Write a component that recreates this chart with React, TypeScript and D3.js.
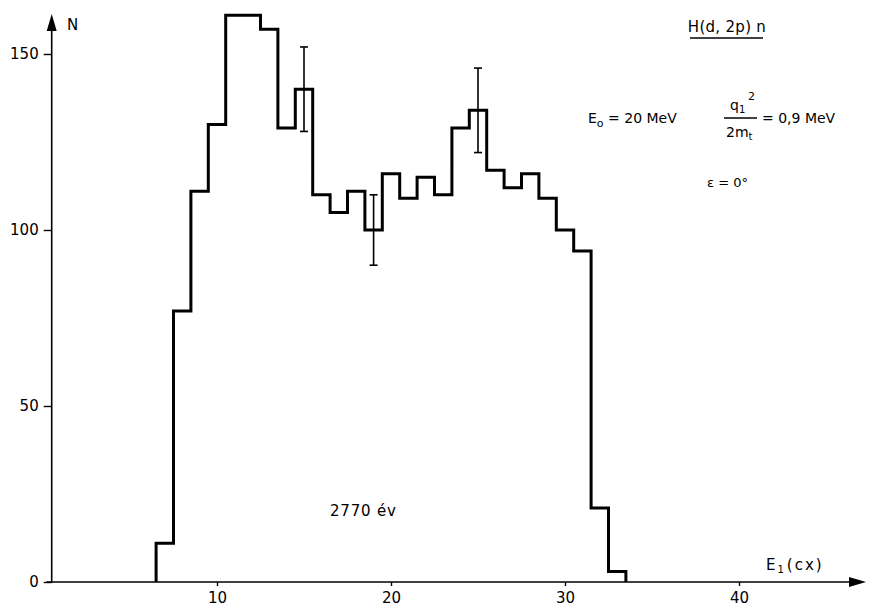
import * as d3 from "d3";
import { useEffect, useRef } from "react";

const W = 878;
const H = 611;

// channel centres of the histogram and the counts in each
const channels = [7, 8, 9, 10, 11, 12, 13, 14, 15, 16, 17, 18, 19, 20, 21, 22, 23, 24, 25, 26, 27, 28, 29, 30, 31, 32, 33];
const counts = [11, 77, 111, 130, 161, 161, 157, 129, 140, 110, 105, 111, 100, 116, 109, 115, 110, 129, 134, 117, 112, 116, 109, 100, 94, 21, 3];

// error bars on a few channels
const errChannels = [15, 19, 25];
const errLow = [128, 90, 122];
const errHigh = [152, 110, 146];

const xTicks = [10, 20, 30, 40];
const yTicks = [0, 50, 100, 150];

const FONT = "'DejaVu Sans', sans-serif";

const App = () => {
  const ref = useRef<SVGSVGElement>(null);

  useEffect(() => {
    const svg = d3.select(ref.current);
    svg.selectAll("*").remove();

    const x = d3.scaleLinear().domain([0, 40]).range([43, 739]);
    const y = d3.scaleLinear().domain([0, 150]).range([582, 54]);
    const x0 = x(0.5);
    const y0 = y(0);

    // axes lines with arrow heads
    svg.append("line")
      .attr("x1", x0).attr("x2", x0)
      .attr("y1", y0 + 1).attr("y2", 28)
      .attr("stroke", "#000").attr("stroke-width", 1.6);
    svg.append("path")
      .attr("d", `M${x0},14 L${x0 - 5},31 L${x0 + 5},31 Z`)
      .attr("fill", "#000");

    svg.append("line")
      .attr("x1", x(0.2)).attr("x2", 852)
      .attr("y1", y0).attr("y2", y0)
      .attr("stroke", "#000").attr("stroke-width", 1.6);
    svg.append("path")
      .attr("d", `M866,${y0} L849,${y0 - 5} L849,${y0 + 5} Z`)
      .attr("fill", "#000");

    // Y ticks
    const gy = svg.append("g")
      .attr("transform", `translate(${x0},0)`)
      .call(d3.axisLeft(y).tickValues(yTicks).tickSize(8).tickPadding(5));
    gy.select(".domain").remove();
    gy.selectAll("line").attr("stroke-width", 1.4);
    gy.selectAll("text")
      .style("font-family", FONT).style("font-size", "15px").attr("fill", "#000");

    // X ticks
    const gx = svg.append("g")
      .attr("transform", `translate(0,${y0})`)
      .call(d3.axisBottom(x).tickValues(xTicks).tickSize(4).tickPadding(6));
    gx.select(".domain").remove();
    gx.selectAll("line").attr("stroke-width", 1.4);
    gx.selectAll("text")
      .style("font-family", FONT).style("font-size", "15px").attr("fill", "#000");

    // histogram outline
    const pts: [number, number][] = [[channels[0] - 0.5, 0]];
    channels.forEach((c, i) => {
      pts.push([c - 0.5, counts[i]]);
      pts.push([c + 0.5, counts[i]]);
    });
    pts.push([channels[channels.length - 1] + 0.5, 0]);
    const line = d3.line<[number, number]>().x((d) => x(d[0])).y((d) => y(d[1]));
    svg.append("path")
      .attr("d", line(pts))
      .attr("fill", "none")
      .attr("stroke", "#000")
      .attr("stroke-width", 3)
      .attr("stroke-linejoin", "miter");

    // error bars
    const eb = svg.append("g").attr("stroke", "#000").attr("stroke-width", 1.6);
    errChannels.forEach((c, i) => {
      const cx = x(c);
      eb.append("line").attr("x1", cx).attr("x2", cx).attr("y1", y(errLow[i])).attr("y2", y(errHigh[i]));
      eb.append("line").attr("x1", cx - 4).attr("x2", cx + 4).attr("y1", y(errLow[i])).attr("y2", y(errLow[i]));
      eb.append("line").attr("x1", cx - 4).attr("x2", cx + 4).attr("y1", y(errHigh[i])).attr("y2", y(errHigh[i]));
    });

    // labels
    const txt = (tx: number, ty: number, s: string, size = 14, anchor = "start") =>
      svg.append("text")
        .attr("x", tx).attr("y", ty)
        .attr("text-anchor", anchor)
        .style("font-family", FONT)
        .style("font-size", `${size}px`)
        .attr("fill", "#000")
        .text(s);

    txt(67, 30, "N", 15);

    // x label E1(cx)
    const xl = txt(766, 570, "E", 15).attr("letter-spacing", 2);
    xl.append("tspan").attr("dy", 3).style("font-size", "10px").text("1");
    xl.append("tspan").attr("dy", -3).attr("dx", 1).text("(cx)");

    // reaction title
    txt(727, 32, "H(d, 2p) n", 15, "middle").attr("letter-spacing", 0.3);
    svg.append("line")
      .attr("x1", 690).attr("x2", 763).attr("y1", 38).attr("y2", 38)
      .attr("stroke", "#000").attr("stroke-width", 1.6);

    // beam energy
    const e0 = txt(588, 123, "E", 14);
    e0.append("tspan").attr("dy", 4).style("font-size", "11px").text("o");
    e0.append("tspan").attr("dy", -4).text(" = 20 MeV");

    // q1^2 / 2m_t fraction
    const num = txt(730, 110, "q", 14);
    num.append("tspan").attr("dy", 3).style("font-size", "10px").text("1");
    txt(748, 100, "2", 11);
    svg.append("line")
      .attr("x1", 724).attr("x2", 757).attr("y1", 118).attr("y2", 118)
      .attr("stroke", "#000").attr("stroke-width", 1.3);
    const den = txt(726, 137, "2m", 14);
    den.append("tspan").attr("dy", 3).style("font-size", "10px").text("t");
    txt(762, 123, "= 0,9 MeV", 14);

    txt(707, 187, "ε = 0°", 13);

    txt(330, 516, "2770  év", 15).attr("letter-spacing", 0.8);
  }, []);

  return (
    <svg
      ref={ref}
      width={W}
      height={H}
      style={{ position: "absolute", left: 0, top: 0, background: "#fff" }}
    />
  );
};

export default App;
